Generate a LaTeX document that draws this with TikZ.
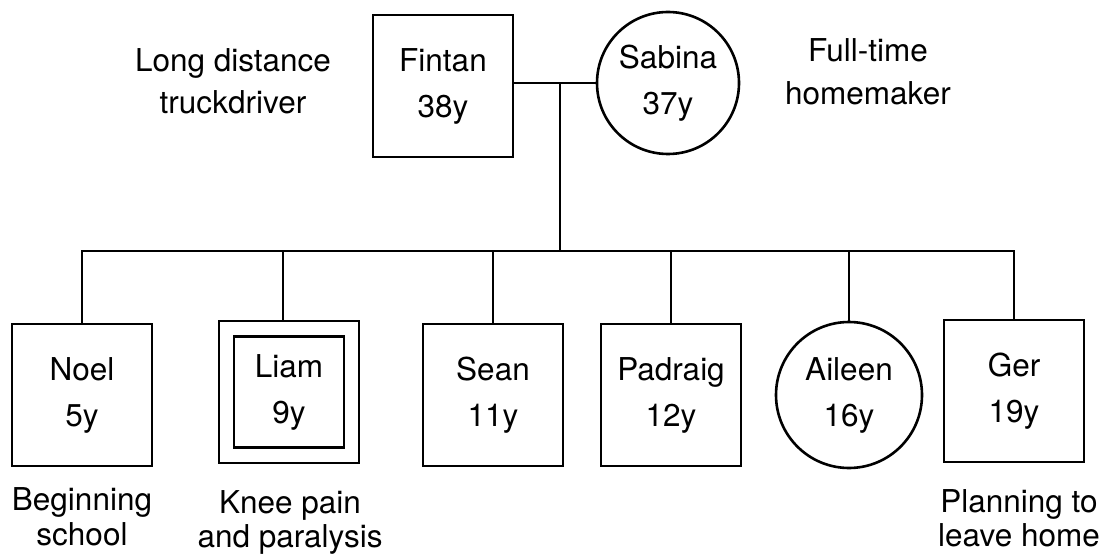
\documentclass[tikz,border=0pt]{standalone}
\usepackage{fontspec}
\setmainfont{TeX Gyre Heros}
\begin{document}
\begin{tikzpicture}[x=1pt,y=-1pt,
  line width=2.6pt,
  person/.style={draw, inner sep=0pt, align=center,
    font=\fontsize{31.5}{46}\selectfont},
  male/.style={person, rectangle, minimum width=140pt, minimum height=142pt},
  female/.style={person, circle, minimum size=142pt},
  caption/.style={inner sep=0pt, align=center, anchor=north,
    font=\fontsize{31.5}{#1}\selectfont},
  caption/.default=36pt]
\useasboundingbox (0,0) rectangle (1106,556);

% parents
\node[male] (fintan) at (443,86) {Fintan\\38y};
\node[female] (sabina) at (668,83) {Sabina\\37y};
\coordinate (couple) at (560,83);
\coordinate (bar) at (560,251);

% children
\node[male] (noel) at (82,395) {Noel\\5y};
\node[male] (liamout) at (289,392) {};
\node[person, rectangle, minimum width=110pt, minimum height=111pt] (liam) at (289,392) {Liam\\9y};
\node[male] (sean) at (493,395) {Sean\\11y};
\node[male] (padraig) at (671,395) {Padraig\\12y};
\node[female, minimum size=146pt] (aileen) at (849,395) {Aileen\\16y};
\node[male] (ger) at (1014,391) {Ger\\19y};

% marriage and descent lines
\draw (fintan.east |- sabina.west) -- (sabina.west);
\draw (couple) -- (bar);
\draw (noel.north) |- (bar) -| (ger.north);
\foreach \k in {sean, padraig, aileen}
  \draw (\k.north) -- (\k.north |- bar);
\draw ([xshift=-6pt]liamout.north) -- ([xshift=-6pt]liamout.north |- bar);

% notes
\node[caption=42pt] (trucker) at (233,47.5) {Long distance\\truckdriver};
\node[caption=43pt] (homemaker) at (868,37.5) {Full-time\\homemaker};
\node[caption=35pt] (school) at (82,486) {Beginning\\school};
\node[caption=34pt] (knee) at (290,489) {Knee pain\\and paralysis};
\node[caption=34pt] (leaving) at (1019,488) {Planning to\\leave home};
\end{tikzpicture}
\end{document}
